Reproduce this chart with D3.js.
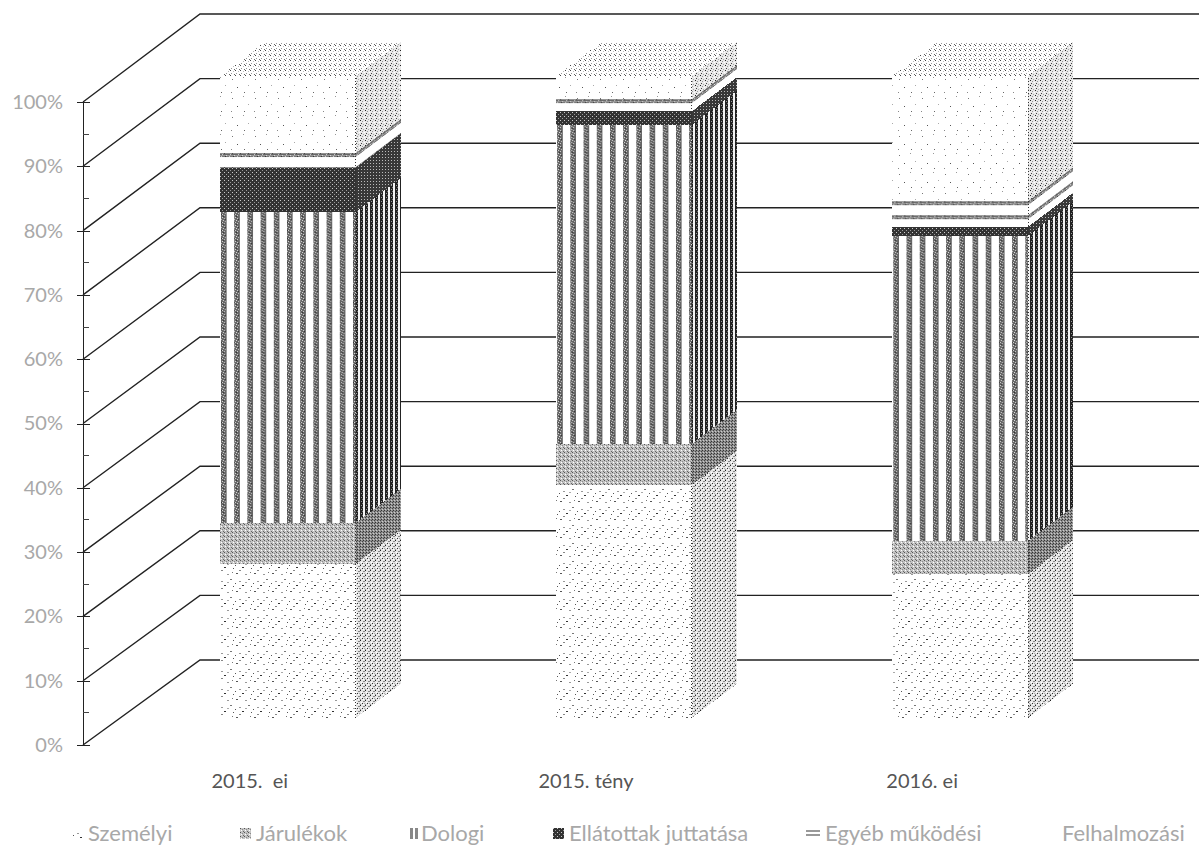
<!DOCTYPE html>
<html>
<head>
<meta charset="utf-8">
<title>chart</title>
<script src="https://d3js.org/d3.v7.min.js"></script>
<style>
	html, body { margin: 0; padding: 0; background: #fff; }
	svg { display: block; }
	text { font-family: Lato, 'Open Sans', sans-serif; }
</style>
</head>
<body>
<div id="chart"></div>
<script>
	const categories = ['2015.  ei', '2015. tény', '2016. ei'];
	const seriesNames = ['Személyi', 'Járulékok', 'Dologi', 'Ellátottak juttatása', 'Egyéb működési', 'Felhalmozási'];
	const szemelyi = [24.0, 36.3, 22.4];
	const jarulekok = [6.4, 6.4, 5.2];
	const dologi = [48.4, 49.7, 47.5];
	const ellatottak = [6.9, 2.1, 1.4];
	const egyeb = [2.3, 1.9, 4.0];
	const felhalmozasi = [12.0, 3.6, 19.5];
	const tickValues = [0, 10, 20, 30, 40, 50, 60, 70, 80, 90, 100];
	const minorTicks = [5, 15, 25, 35, 45, 55, 65, 75, 85, 95];

	const allSeries = [szemelyi, jarulekok, dologi, ellatottak, egyeb, felhalmozasi];

	const width = 1199, height = 845;
	const svg = d3.select('#chart').append('svg')
		.attr('width', width).attr('height', height)
		.attr('shape-rendering', 'crispEdges');
	const defs = svg.append('defs');

	// Front plane, back wall and bar scales
	const yFront = d3.scaleLinear().domain([0, 100]).range([745, 102]);
	const yBack = d3.scaleLinear().domain([0, 100]).range([660, 14]);
	const yBar = d3.scaleLinear().domain([0, 100]).range([718, 76]);
	const x = d3.scaleBand().domain(categories)
		.range([220, 1028]).paddingInner(201 / 337).paddingOuter(0);
	const axisX = 83, backX = 200;
	const depthX = 45, depthY = -34;
	const slope = depthY / depthX;

	// Stippled fills, the scan of the original is dithered
	function pattern(id, w, h, bg, dots, transform) {
		const p = defs.append('pattern').attr('id', id)
			.attr('width', w).attr('height', h)
			.attr('patternUnits', 'userSpaceOnUse');
		if (transform) p.attr('patternTransform', transform);
		p.append('rect').attr('width', w).attr('height', h).attr('fill', bg);
		dots.forEach(d => p.append('rect')
			.attr('x', d[0]).attr('y', d[1])
			.attr('width', d[3] || 1).attr('height', d[4] || 1)
			.attr('fill', d[2]));
	}

	pattern('szem-front', 18, 18, '#fff', [
		[2, 15, '#555', 2], [8, 9, '#333', 2], [14, 3, '#777', 2],
		[11, 16, '#999', 2], [17, 10, '#555'], [5, 5, '#999', 2], [1, 7, '#555'],
		[5, 12, '#888', 2], [11, 6, '#aaa', 2], [16, 14, '#777']
	]);
	pattern('szem-side', 5, 5, '#e4e4e4', [
		[0, 0, '#222'], [3, 1, '#888', 2], [1, 2, '#fff'], [2, 3, '#333'], [4, 3, '#aaa'], [0, 4, '#999'], [3, 4, '#fff']
	]);
	pattern('jar-front', 4, 4, '#c4c4c4', [
		[0, 0, '#555'], [2, 1, '#8a8a8a'], [3, 3, '#666'], [1, 2, '#fff']
	]);
	pattern('jar-side', 3, 3, '#8e8e8e', [[0, 0, '#333'], [2, 1, '#444'], [1, 2, '#ccc']]);
	pattern('dol-side', 5, 4, '#f4f4f4', [[0, 0, '#222', 3, 4], [1, 1, '#999'], [2, 3, '#777']]);
	pattern('ell-front', 4, 4, '#333', [[0, 0, '#ccc'], [2, 2, '#999']]);
	pattern('ell-side', 3, 3, '#383838', [[1, 1, '#bbb']]);
	pattern('fel-front', 23, 19, '#fff', [
		[2, 3, '#777'], [13, 1, '#999'], [7, 11, '#555'], [18, 9, '#aaa'], [1, 16, '#888'], [14, 16, '#666']
	]);
	pattern('fel-side', 5, 5, '#e8e8e8', [[0, 0, '#222'], [2, 1, '#999'], [4, 2, '#fff'], [1, 3, '#444'], [3, 4, '#aaa']]);
	pattern('fel-top', 5, 5, '#fff', [[0, 0, '#444'], [3, 1, '#bbb'], [1, 3, '#999'], [4, 4, '#666']]);

	// Gridlines run up the side wall and then along the back wall
	const grid = d3.line().x(d => d[0]).y(d => d[1]);
	svg.append('g').selectAll('path').data(tickValues).join('path')
		.attr('shape-rendering', 'auto')
		.attr('fill', 'none').attr('stroke', '#222').attr('stroke-width', 1.4)
		.attr('d', t => grid([[axisX, yFront(t)], [backX, yBack(t)], [width, yBack(t)]]));

	// Stacked bars
	const segments = categories.map((c, i) => {
		let sum = 0;
		return allSeries.map((s, k) => {
			const d = {cat: c, i: i, k: k, y0: sum, y1: sum + s[i]};
			sum = d.y1;
			return d;
		});
	});
	const keys = ['szem', 'jar', 'dol', 'ell', 'egy', 'fel'];
	const bw = x.bandwidth();
	const poly = pts => pts.map(p => p.join(',')).join(' ');

	// Stripes of Dologi start at the bar edge, those of Egyéb at the top of the segment
	const stripe = [[0, 0, '#8a8a8a', 8, 1], [0, 1, '#666', 8, 1], [0, 2, '#999', 8, 1], [0, 3, '#777', 8, 1],
		[2, 1, '#ccc'], [6, 2, '#ddd'], [4, 0, '#444'], [1, 3, '#ccc'], [5, 3, '#333']];
	const column = [[0, 0, '#666', 6, 8], [1, 1, '#ddd'], [3, 2, '#ccc'], [0, 3, '#bbb'], [2, 4, '#ddd'],
		[4, 5, '#bbb'], [1, 6, '#ddd'], [3, 7, '#ccc'], [2, 0, '#333'], [4, 3, '#333'], [0, 6, '#333']];
	segments.forEach(bar => {
		const s = bar[4];
		const left = x(s.cat), top = yBar(s.y1);
		pattern('egy-front-' + s.i, 8, 14, '#fff', stripe, `translate(${left},${top})`);
		pattern('egy-side-' + s.i, 8, 14, '#fff', stripe,
			`matrix(1,${slope},0,1,${left + bw},${top})`);
		pattern('dol-front-' + s.i, 13.2, 8, '#fff', column, `translate(${left + 1},0)`);
	});

	const bars = svg.append('g').selectAll('g').data(segments).join('g');
	bars.each(function (bar) {
		const g = d3.select(this);
		bar.forEach(d => {
			const left = x(d.cat), right = left + bw;
			const y0 = yBar(d.y0), y1 = yBar(d.y1);
			const key = keys[d.k];
			const front = key === 'egy' || key === 'dol' ? `${key}-front-${d.i}` : `${key}-front`;
			const side = key === 'egy' ? `egy-side-${d.i}` : `${key}-side`;
			g.append('polygon')
				.attr('points', poly([[right, y0], [right + depthX, y0 + depthY], [right + depthX, y1 + depthY], [right, y1]]))
				.attr('fill', `url(#${side})`);
			g.append('rect')
				.attr('x', left).attr('y', y1)
				.attr('width', bw).attr('height', y0 - y1)
				.attr('fill', `url(#${front})`);
		});
		const top = yBar(100), left = x(bar[0].cat);
		g.append('polygon')
			.attr('points', poly([[left, top], [left + bw, top], [left + bw + depthX, top + depthY], [left + depthX, top + depthY]]))
			.attr('fill', 'url(#fel-top)');
		// dotted corner between front and side
		g.append('line')
			.attr('x1', left + bw).attr('x2', left + bw)
			.attr('y1', yBar(0)).attr('y2', yBar(100))
			.attr('stroke', '#333').attr('stroke-dasharray', '1 2');
	});

	// Value axis
	const axis = svg.append('g')
		.attr('transform', `translate(${axisX},0)`)
		.call(d3.axisLeft(yFront).tickValues(tickValues).tickFormat(d => d + '%').tickSize(6).tickPadding(14));
	axis.select('.domain').attr('stroke', '#222').attr('stroke-width', 1.5);
	axis.selectAll('.tick line').attr('x2', 7).attr('x1', -6).attr('stroke', '#222');
	axis.selectAll('.tick text').attr('fill', '#a8a8a8').attr('font-size', 20).attr('font-family', 'Lato, sans-serif');
	svg.append('g').attr('transform', `translate(${axisX},0)`)
		.selectAll('line').data(minorTicks).join('line')
		.attr('x1', 0).attr('x2', 6)
		.attr('y1', d => yFront(d)).attr('y2', d => yFront(d))
		.attr('stroke', '#444');

	// Category labels sit left of the bar centre
	svg.append('g').selectAll('text').data(categories).join('text')
		.attr('x', d => x(d) + bw / 2 - 38)
		.attr('y', 788)
		.attr('text-anchor', 'middle')
		.style('white-space', 'pre')
		.attr('font-size', 20)
		.attr('fill', '#555')
		.text(d => d);

	// Legend
	const legendX = d3.scaleOrdinal().domain(seriesNames).range([72, 240, 410, 553, 806, 1050]);
	const legend = svg.append('g').selectAll('g').data(seriesNames).join('g')
		.attr('transform', d => `translate(${legendX(d)},0)`);
	legend.append('rect')
		.attr('y', 828).attr('width', (d, i) => i === 2 ? 8 : 11).attr('height', 11)
		.attr('fill', (d, i) => i >= 4 ? '#fff' : i === 2 ? '#888' : `url(#${keys[i]}-front)`);
	legend.filter((d, i) => i === 2).append('line')
		.attr('x1', 4).attr('x2', 4).attr('y1', 828).attr('y2', 839)
		.attr('stroke', '#fff').attr('stroke-width', 2);
	legend.filter((d, i) => i === 4).selectAll('line').data([831, 835]).join('line')
		.attr('x1', 0).attr('x2', 14).attr('y1', d => d).attr('y2', d => d)
		.attr('stroke', '#999').attr('stroke-width', 2);
	legend.append('text')
		.attr('x', (d, i) => i === 4 ? 19 : i === 2 ? 11 : i === 5 ? 12 : 16)
		.attr('y', 841)
		.attr('font-size', 22)
		.attr('fill', '#a8a8a8')
		.text(d => d);
</script>
</body>
</html>
